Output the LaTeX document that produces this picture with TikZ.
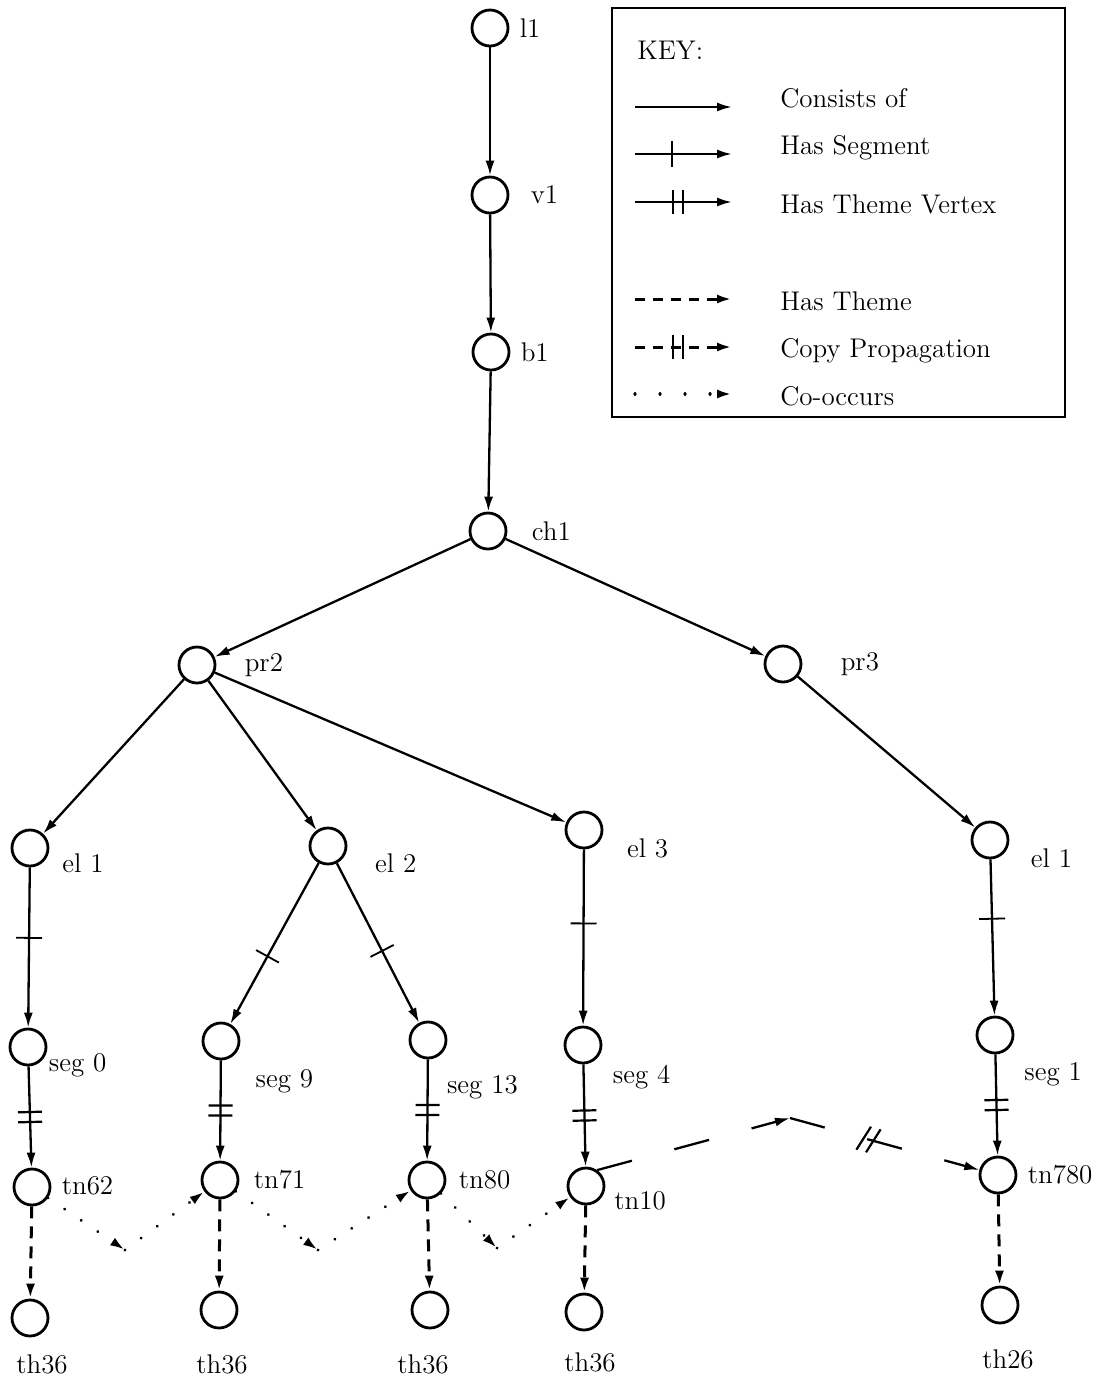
\documentclass[tikz,border=0pt]{standalone}
\usetikzlibrary{arrows.meta,decorations.markings}
\newcommand{\lblfont}{\fontsize{13.5}{16}\selectfont}
\tikzset{
  vtx/.style={draw, circle, line width=1.4pt, minimum size=18pt, inner sep=0pt},
  lbl/.style={font=\lblfont, inner sep=0pt},
  tip/.style={-{Latex[length=7.5pt,width=4.5pt]}},
  consists/.style={tip, line width=1.15pt},
  sgtick/.style={postaction={decorate}, decoration={markings,
      mark=at position #1 with {\draw[-,solid,line width=0.9pt] (0pt,-6.5pt) -- (0pt,6.5pt);}}},
  dbltick/.style={postaction={decorate}, decoration={markings,
      mark=at position #1 with {\draw[-,solid,line width=1.1pt] (-2.5pt,-6pt) -- (-2.5pt,6pt) (2.5pt,-6pt) -- (2.5pt,6pt);}}},
  slashtick/.style={postaction={decorate}, decoration={markings,
      mark=at position #1 with {\draw[-,solid,line width=1.1pt] (-5pt,-6.5pt) -- (-1pt,6.5pt) (0pt,-6.5pt) -- (4pt,6.5pt);}}},
  hasseg/.style={consists, sgtick=#1}, hasseg/.default=0.5,
  themevtx/.style={consists, dbltick=#1}, themevtx/.default=0.5,
  hastheme/.style={tip, line width=1.5pt, dash pattern=on 6pt off 4pt},
  copyprop/.style={tip, line width=1.15pt, dash pattern=on 18pt off 22pt},
  cooccur/.style={tip, line width=1.6pt, line cap=round, dash pattern=on 0.01pt off 10pt},
  keybox/.style={line width=1.3pt},
}
\begin{document}
\begin{tikzpicture}[x=0.5pt,y=-0.5pt]
\useasboundingbox (0,0) rectangle (1103,1378);

% vertices
\node[vtx, label={[lbl,label distance=5pt]0:l1}] (l1) at (490,28) {};
\node[vtx, label={[lbl,label distance=10.5pt]0:v1}] (v1) at (490,195) {};
\node[vtx, label={[lbl,label distance=5pt]0:b1}] (b1) at (491,352) {};
\node[vtx, label={[lbl,label distance=12pt]0:ch1}] (ch1) at (488,531) {};
\node[vtx, label={[lbl,label distance=14pt]0:pr2}] (pr2) at (197,665) {};
\node[vtx, label={[lbl,label distance=19pt]0:pr3}] (pr3) at (783,664) {};
\node[vtx, label={[lbl,label distance=6.5pt]-9:el 1}] (el1) at (30,848) {};
\node[vtx, label={[lbl,label distance=14pt]-9:el 2}] (el2) at (328,846) {};
\node[vtx, label={[lbl,label distance=12pt]-11:el 3}] (el3) at (584,830) {};
\node[vtx, label={[lbl,label distance=11pt]-12:el 1}] (el1r) at (990,840) {};
\node[vtx, label={[lbl,label distance=1pt]-17:seg 0}] (seg0) at (28,1047) {};
\node[vtx, label={[lbl,label distance=17pt,xshift=-5.5pt]-32:seg 9}] (seg9) at (221,1041) {};
\node[vtx, label={[lbl,label distance=17.5pt,xshift=-11.5pt]-40:seg 13}] (seg13) at (428,1040) {};
\node[vtx, label={[lbl,label distance=11pt,xshift=-3.5pt]-28:seg 4}] (seg4) at (583,1045) {};
\node[vtx, label={[lbl,label distance=15pt,xshift=-6pt]-34:seg 1}] (seg1) at (995,1035) {};
\node[vtx, label={[lbl,label distance=5pt]2:tn62}] (tn62) at (32,1187) {};
\node[vtx, label={[lbl,label distance=7pt]0:tn71}] (tn71) at (220,1180) {};
\node[vtx, label={[lbl,label distance=6pt]0:tn80}] (tn80) at (427,1180) {};
\node[vtx, label={[lbl,label distance=4.5pt]-10:tn10}] (tn10) at (586,1186) {};
\node[vtx, label={[lbl,label distance=5pt]0:tn780}] (tn780) at (998,1175) {};
\node[vtx, label={[lbl,label distance=8.3pt,xshift=6pt]below:th36}] (th1) at (30,1318) {};
\node[vtx, label={[lbl,label distance=12.3pt,xshift=1.5pt]below:th36}] (th2) at (219,1310) {};
\node[vtx, label={[lbl,label distance=12.3pt,xshift=-3.5pt]below:th36}] (th3) at (430,1310) {};
\node[vtx, label={[lbl,label distance=10.3pt,xshift=3pt]below:th36}] (th4) at (584,1312) {};
\node[vtx, label={[lbl,label distance=12.3pt,xshift=4pt]below:th26}] (th5) at (1000,1305) {};

% consists of
\draw[consists] (l1) -- (v1);
\draw[consists] (v1) -- (b1);
\draw[consists] (b1) -- (ch1);
\draw[consists] (ch1) -- (pr2);
\draw[consists] (ch1) -- (pr3);
\draw[consists] (pr2) -- (el1);
\draw[consists] (pr2) -- (el2);
\draw[consists] (pr2) -- (el3);
\draw[consists] (pr3) -- (el1r);

% has segment
\draw[hasseg=0.44] (el1) -- (seg0);
\draw[hasseg=0.58] (el2) -- (seg9);
\draw[hasseg=0.55] (el2) -- (seg13);
\draw[hasseg=0.42] (el3) -- (seg4);
\draw[hasseg=0.38] (el1r) -- (seg1);

% has theme vertex
\draw[themevtx] (seg0) -- (tn62);
\draw[themevtx] (seg9) -- (tn71);
\draw[themevtx] (seg13) -- (tn80);
\draw[themevtx] (seg4) -- (tn10);
\draw[themevtx] (seg1) -- (tn780);

% has theme
\draw[hastheme] (tn62) -- (th1);
\draw[hastheme] (tn71) -- (th2);
\draw[hastheme] (tn80) -- (th3);
\draw[hastheme] (tn10) -- (th4);
\draw[hastheme] (tn780) -- (th5);

% co-occurs
\coordinate (co1) at (125,1250);
\coordinate (co2) at (318,1250);
\coordinate (co3) at (497,1248);
\draw[cooccur] (tn62) -- (co1);
\draw[cooccur] (co1) -- (tn71);
\draw[cooccur] (tn71) -- (co2);
\draw[cooccur] (co2) -- (tn80);
\draw[cooccur] (tn80) -- (co3);
\draw[cooccur] (co3) -- (tn10);

% copy propagation
\coordinate (cpeak) at (790,1118);
\draw[copyprop] (tn10.55) -- (cpeak);
\draw[copyprop, slashtick=0.42] (cpeak) -- (tn780);

% key
\draw[keybox] (612,8) rectangle (1065,417);
\node[lbl, anchor=base west] (keyhead) at (637,59) {KEY:};
\node[lbl, anchor=base west] (kconsists) at (780,107) {Consists of};
\node[lbl, anchor=base west] (kseg) at (780,154) {Has Segment};
\node[lbl, anchor=base west] (kvtx) at (780,213) {Has Theme Vertex};
\node[lbl, anchor=base west] (ktheme) at (780,310) {Has Theme};
\node[lbl, anchor=base west] (kcopy) at (780,357) {Copy Propagation};
\node[lbl, anchor=base west] (kco) at (780,405) {Co-occurs};
\coordinate (ks1) at (635,107); \coordinate (ke1) at (732,107);
\coordinate (ks2) at (635,154); \coordinate (ke2) at (732,154);
\coordinate (ks3) at (635,202); \coordinate (ke3) at (732,202);
\coordinate (ks4) at (635,299); \coordinate (ke4) at (732,299);
\coordinate (ks5) at (635,347); \coordinate (ke5) at (732,347);
\coordinate (ks6) at (635,394); \coordinate (ke6) at (732,394);
\draw[consists] (ks1) -- (ke1);
\draw[hasseg=0.38] (ks2) -- (ke2);
\draw[themevtx=0.44] (ks3) -- (ke3);
\draw[hastheme, dash pattern=on 5pt off 4pt] (ks4) -- (ke4);
\draw[hastheme, dash pattern=on 5pt off 4pt, dbltick=0.44] (ks5) -- (ke5);
\draw[cooccur, dash pattern=on 0.01pt off 12.5pt] (ks6) -- (ke6);
\end{tikzpicture}
\end{document}
